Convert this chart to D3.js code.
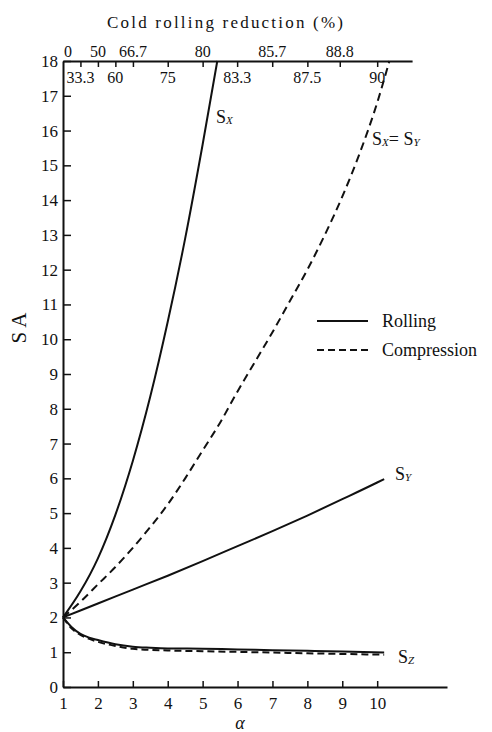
<!DOCTYPE html>
<html>
<head>
<meta charset="utf-8">
<script src="https://cdn.jsdelivr.net/npm/d3@7/dist/d3.min.js"></script>
<style>
  html, body { margin: 0; padding: 0; background: #fff; }
  svg { display: block; }
  text { font-family: "Liberation Serif", "Times New Roman", serif; fill: #111; }
</style>
</head>
<body>
<svg id="chart" width="492" height="732"></svg>
<script>
// Draw ratio α on the bottom axis, S/A on the left axis
const alphaTicks = [1, 2, 3, 4, 5, 6, 7, 8, 9, 10];
const sTicks = [0, 1, 2, 3, 4, 5, 6, 7, 8, 9, 10, 11, 12, 13, 14, 15, 16, 17, 18];

// Cold rolling reduction (%) labels on the top axis, two staggered rows
const reductionUpper = [0, 50, 66.7, 80, 85.7, 88.8];
const reductionLower = [33.3, 60, 75, 83.3, 87.5, 90];

// Curves: [α, S/A]
const sxRolling = [
  [1.0, 2.0], [1.5, 2.75], [2.0, 3.7], [2.5, 4.95], [3.0, 6.5], [3.5, 8.35],
  [4.0, 10.5], [4.5, 12.9], [5.0, 15.6], [5.42, 18.0]
];
const sxsyCompression = [
  [1.0, 2.0], [1.5, 2.45], [2.0, 2.95], [2.5, 3.45], [3.0, 4.0], [3.5, 4.6], [4.0, 5.25],
  [4.5, 6.0], [5.0, 6.8], [5.5, 7.6], [6.0, 8.5], [6.5, 9.35], [7.0, 10.2], [7.5, 11.1],
  [8.0, 12.0], [8.5, 13.0], [9.0, 14.1], [9.5, 15.35], [10.0, 16.8], [10.35, 18.0]
];
const syRolling = [
  [1.0, 2.0], [2.0, 2.4], [3.0, 2.8], [4.0, 3.2], [5.0, 3.62], [6.0, 4.05],
  [7.0, 4.48], [8.0, 4.93], [9.0, 5.4], [10.0, 5.88], [10.2, 5.98]
];
const szRolling = [
  [1.0, 2.0], [1.25, 1.72], [1.5, 1.53], [1.75, 1.42], [2.0, 1.35], [2.5, 1.23],
  [3.0, 1.16], [3.5, 1.13], [4.0, 1.11], [5.0, 1.1], [6.0, 1.08], [7.0, 1.06],
  [8.0, 1.04], [9.0, 1.02], [10.2, 0.99]
];
const szCompression = [
  [1.0, 2.0], [1.25, 1.68], [1.5, 1.5], [2.0, 1.3], [2.5, 1.18], [3.0, 1.1],
  [4.0, 1.05], [5.0, 1.03], [6.0, 1.01], [7.0, 0.99], [8.0, 0.97], [9.0, 0.95], [10.2, 0.93]
];

const svg = d3.select("#chart");

const x = d3.scaleLinear().domain([1, 12]).range([63, 447]);
const y = d3.scaleLinear().domain([0, 18]).range([687, 61]);
// top axis stops short of the bottom one
const xTop = d3.scaleLinear().domain([1, 11]).range([x(1), x(11)]);
// reduction r (%) corresponds to α = 1 / (1 - r/100)
const alphaOf = r => 1 / (1 - r / 100);

function styleAxis(g, fontSize) {
  g.select(".domain").attr("stroke", "#111").attr("stroke-width", 2);
  g.selectAll(".tick line").attr("stroke", "#111").attr("stroke-width", 1.5);
  g.selectAll(".tick text").attr("font-size", fontSize)
    .attr("font-family", "Liberation Serif, serif").attr("fill", "#111");
}

// bottom axis
const gx = svg.append("g").attr("transform", "translate(0,687)")
  .call(d3.axisBottom(x).tickValues(alphaTicks).tickSizeInner(-6).tickSizeOuter(0).tickPadding(10)
    .tickFormat(d3.format("d")));
styleAxis(gx, 17);

// left axis
const gy = svg.append("g").attr("transform", "translate(63,0)")
  .call(d3.axisLeft(y).tickValues(sTicks).tickSizeInner(-8).tickSizeOuter(0).tickPadding(5)
    .tickFormat(d3.format("d")));
styleAxis(gy, 17);

// top axis (reduction)
const topTickAlphas = reductionUpper.concat(reductionLower).filter(r => r > 0).map(alphaOf);
const gt = svg.append("g").attr("transform", "translate(0,61)")
  .call(d3.axisTop(xTop).tickValues(topTickAlphas).tickSizeInner(-6).tickSizeOuter(0).tickFormat(""));
styleAxis(gt, 15);

svg.append("g").selectAll("text").data(reductionUpper).join("text")
  .attr("x", d => xTop(alphaOf(d)) + (d === 0 ? 5 : 0))
  .attr("y", 57)
  .attr("text-anchor", "middle")
  .attr("font-size", 16)
  .text(d => d);

svg.append("g").selectAll("text").data(reductionLower).join("text")
  .attr("x", d => xTop(alphaOf(d)))
  .attr("y", 83)
  .attr("text-anchor", "middle")
  .attr("font-size", 16)
  .text(d => d);

// axis titles
svg.append("text").attr("x", 225).attr("y", 28).attr("text-anchor", "middle")
  .attr("font-size", 17).attr("textLength", 236).attr("lengthAdjust", "spacing")
  .text("Cold rolling reduction (%)");

svg.append("text").attr("transform", "translate(26,328) rotate(-90)")
  .attr("text-anchor", "middle").attr("font-size", 21)
  .text("S A");

svg.append("text").attr("x", 240).attr("y", 729).attr("text-anchor", "middle")
  .attr("font-size", 18).attr("font-style", "italic")
  .text("α");

// curves
const line = d3.line().x(d => x(d[0])).y(d => y(d[1])).curve(d3.curveMonotoneX);
const curves = [
  { data: sxRolling, dash: null },
  { data: sxsyCompression, dash: "8,5" },
  { data: syRolling, dash: null },
  { data: szCompression, dash: "7,4" },
  { data: szRolling, dash: null }
];
svg.append("g").selectAll("path").data(curves).join("path")
  .attr("d", d => line(d.data))
  .attr("fill", "none")
  .attr("stroke", "#111")
  .attr("stroke-width", 2)
  .attr("stroke-dasharray", d => d.dash);

// curve labels
function curveLabel(px, py, parts) {
  const t = svg.append("text").attr("x", px).attr("y", py).attr("font-size", 18);
  parts.forEach(p => {
    const s = t.append("tspan").text(p.t);
    if (p.sub) s.attr("font-size", 11).attr("font-style", "italic").attr("dy", 1);
    if (p.up) s.attr("dy", -1);
  });
}
curveLabel(216, 123, [{ t: "S" }, { t: "X", sub: true }]);
curveLabel(372, 145, [{ t: "S" }, { t: "X", sub: true }, { t: "= S", up: true }, { t: "Y", sub: true }]);
curveLabel(395, 480, [{ t: "S" }, { t: "Y", sub: true }]);
curveLabel(398, 663, [{ t: "S" }, { t: "Z", sub: true }]);

// legend
const legend = [
  { label: "Rolling", dash: null, ly: 321 },
  { label: "Compression", dash: "7,4", ly: 350 }
];
const lg = svg.append("g");
lg.selectAll("line").data(legend).join("line")
  .attr("x1", 317).attr("x2", 368)
  .attr("y1", d => d.ly).attr("y2", d => d.ly)
  .attr("stroke", "#111").attr("stroke-width", 2)
  .attr("stroke-dasharray", d => d.dash);
lg.selectAll("text").data(legend).join("text")
  .attr("x", 382).attr("y", d => d.ly + 6)
  .attr("font-size", 18)
  .text(d => d.label);
</script>
</body>
</html>
